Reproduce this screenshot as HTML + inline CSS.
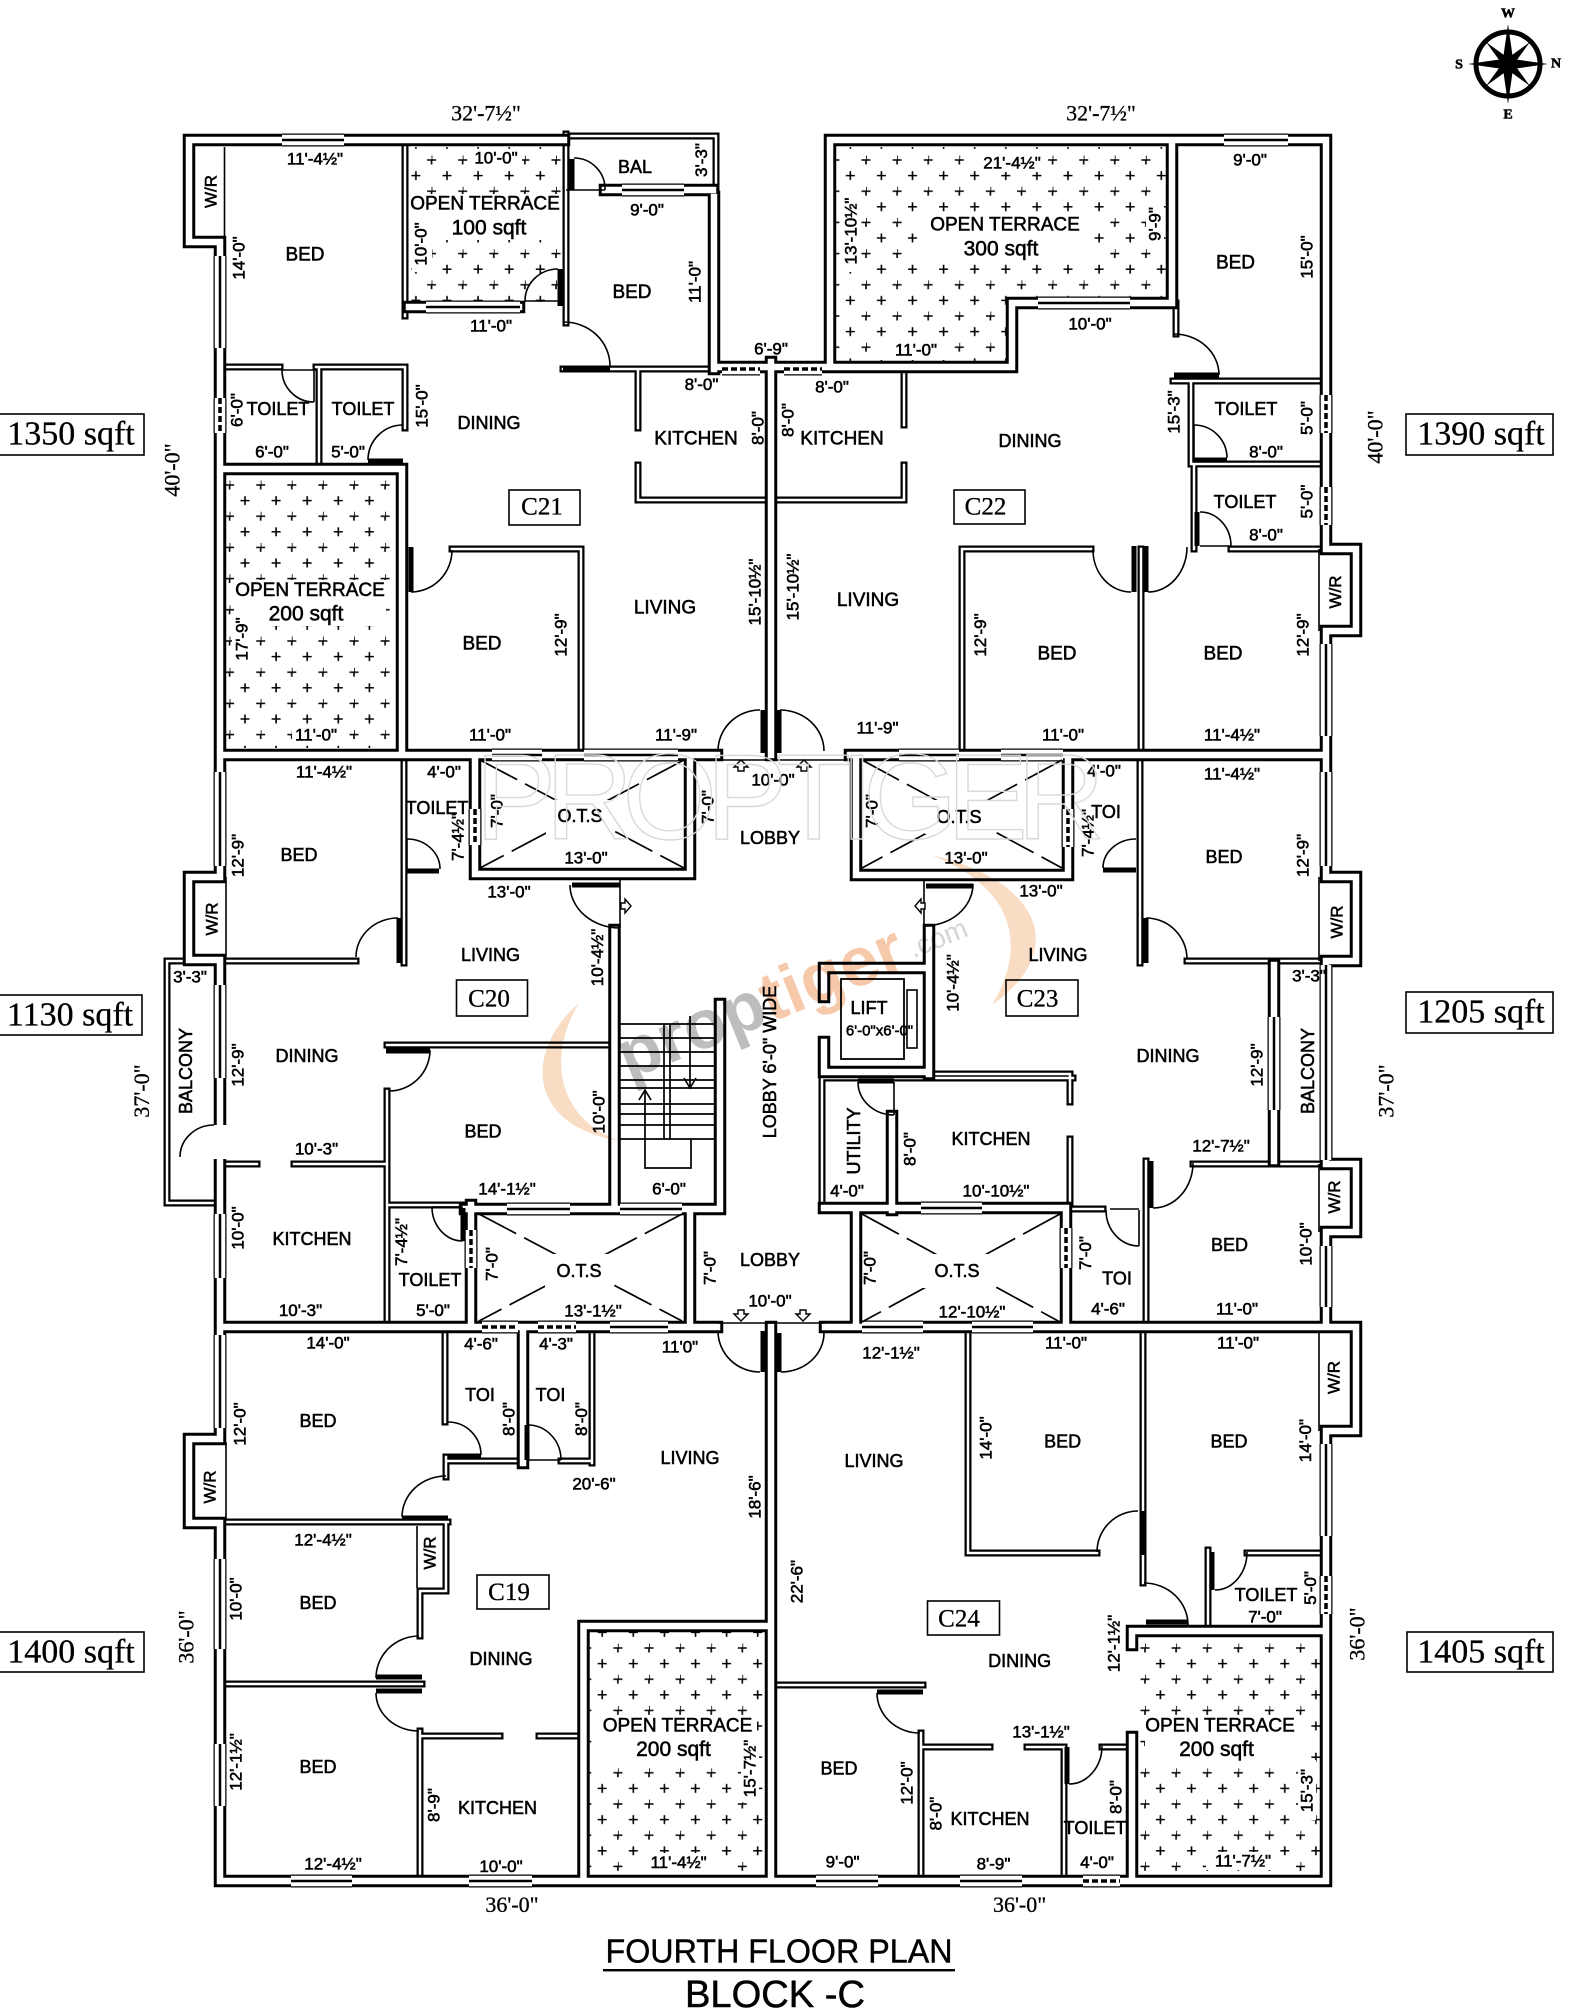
<!DOCTYPE html>
<html><head><meta charset="utf-8"><title>Fourth Floor Plan Block C</title>
<style>
html,body{margin:0;padding:0;background:#fff}
svg{display:block}
text{font-family:"Liberation Sans",sans-serif;font-size:17px;text-anchor:middle;dominant-baseline:central;fill:#000;stroke:#000;stroke-width:.55}
text.b{font-size:19px}
text.t{font-size:18px}
text.m{font-size:21px}
text.f{font-family:"Liberation Serif",serif;font-size:22px;stroke-width:.3}
text.c{font-family:"Liberation Serif",serif;font-size:25px;stroke-width:.3}
text.a{font-family:"Liberation Serif",serif;font-size:34px;stroke-width:.3}
text.n{font-family:"Liberation Serif",serif;font-size:14px;font-weight:bold}
</style></head><body>
<svg xmlns="http://www.w3.org/2000/svg" width="1572" height="2013" viewBox="0 0 1572 2013">
<defs>
<pattern id="p1" width="31.1" height="31.2" patternUnits="userSpaceOnUse" patternTransform="translate(229.6 485)"><path d="M-4.5 0H4.5M0-4.5V4.5M26.6 0H31.1M31.1-4.5V4.5M0 26.7V31.2M-4.5 31.2H4.5M26.6 31.2H31.1M10.9 15.6H19.9M15.4 11.1V20.1" stroke="#000" stroke-width="1.6" fill="none"/></pattern>
<pattern id="p2" href="#p1" patternTransform="translate(431.6 160)"/>
<pattern id="p3" href="#p1" patternTransform="translate(866 160)"/>
<pattern id="p4" href="#p1" patternTransform="translate(649 1648)"/>
<pattern id="p5" href="#p1" patternTransform="translate(1145 1648)"/>
<path id="TH" d="M408 140H189V242H220V469H402V755M220 469V877H189V960H220V1439H189V1523H220V1881H1326V1431H1356V1327H1326V1232H1356V1164H1326V961H1356V877H1326V631H1356V549H1326V140H830V367H1012V303H1172V140M408 140H564M714 197V369M605 190H713M714 367H830M409 307H519M220 755H717M850 755H1326M475 755V874H690V755M856 755V875H1068V755M614.5 930V1209M720 1004V1209M465 1209H720M690 1209V1327M471 1205V1327M824 1208H1066V1327M856 1208V1327M892 1116V1210M929 930V1074M824 968H929M824 1072H929M824 968V997M824 1042V1072M220 1327H717M825 1327H1326M771 362V755M771 1327V1881M523 1327V1463M583.5 1881V1626H771M1132 1631H1326M1132 1631V1645M1132 1737V1881M1274 965V1161"/>
<path id="TN" d="M405 140V316M563 369H714M1176 303V334M566 134V323M566 136H716V197M638 369V428M638 465V500H765M904 367V425M904 465V500H778M220 367H280M316 367H405V428M319 367V469M452 549H581V755M962 755V549H1091M1141 549V755M1173 381H1326M1191 381V464H1326M1194 464V549M1231 549H1326M404 755V963M220 961H356M387 1045H609M387 1091V1327M220 1164H257M294 1164H387M387 1205H470M220 1203H167V961H220M1140 755V963M1187 961H1326M929 1074H1070V1102M1070 1139V1208M1146 1161V1327M1193 1164H1326M1066 1209H1103M822 1079V1208M824 1078H1073M445 1327V1422M446 1457V1477M446 1461H523M561 1461H592M592 1327V1463M220 1522H448M446 1522V1591H420V1636M220 1684H422M420 1731V1881M420 1736H500M539 1736H583M968 1327V1553H1097M1143 1327V1583M1208 1550V1631M1247 1553H1326M778 1685H923M921 1733V1881M921 1747H990M1027 1747H1064V1881M1102 1747H1132"/>
<path id="WN" d="M282 140H344M426 307H520M622 190H684M1224 140H1288M1038 303H1130M492 755H542M584 755H678M899 755H959M1001 755H1063M507 1209H570M620 1209H682M921 1208H982M610 1327H668M862 1327H923M972 1327H1033M291 1881H352M469 1881H532M816 1881H878M960 1881H1022M220 256V348M220 772V866M220 985V1078M220 1214V1278M220 1335V1428M220 1559V1649M220 1744V1806M1326 644V736M1326 772V866M1326 965V1160M1326 1246V1307M1326 1444V1536M1274 1017V1110"/>
<path id="VT" d="M220 398V433M1326 395V433M1326 487V525M475 809V845M471 1230V1268M1068 809V847M1066 1228V1268M1326 1576V1614M722 369H760M784 369H822M482 1327H518M538 1327H576M1083 1881H1120"/>
</defs>
<rect width="1572" height="2013" fill="#fff"/>

<!-- terrace hatching -->
<rect x="408" y="147" width="153" height="155" fill="url(#p2)"/>
<path d="M835 147H1166V297H1006V362H835Z" fill="url(#p3)"/>
<rect x="226" y="475" width="169" height="273" fill="url(#p1)"/>
<rect x="589" y="1631" width="176" height="244" fill="url(#p4)"/>
<rect x="1138" y="1637" width="182" height="238" fill="url(#p5)"/>
<!-- white behind terrace labels -->
<g fill="#fff">
<rect x="408" y="194" width="154" height="46"/><rect x="470" y="150" width="52" height="18"/><rect x="412" y="222" width="20" height="50"/>
<rect x="236" y="580" width="150" height="46"/><rect x="232" y="615" width="20" height="52"/><rect x="292" y="726" width="50" height="18"/>
<rect x="920" y="215" width="172" height="46"/><rect x="980" y="152" width="64" height="20"/><rect x="842" y="190" width="18" height="82"/><rect x="1146" y="200" width="18" height="48"/><rect x="880" y="342" width="72" height="18"/>
<rect x="597" y="1716" width="160" height="46"/><rect x="741" y="1736" width="18" height="66"/><rect x="642" y="1853" width="74" height="18"/>
<rect x="1145" y="1716" width="160" height="46"/><rect x="1298" y="1760" width="18" height="60"/><rect x="1206" y="1852" width="74" height="18"/>
</g>

<!-- walls -->
<g fill="none" stroke-linecap="square" stroke-linejoin="miter">
<use href="#TN" stroke="#000" stroke-width="7"/>
<use href="#TN" stroke="#fff" stroke-width="2.5"/>
<use href="#TH" stroke="#000" stroke-width="12.5"/>
<use href="#TH" stroke="#fff" stroke-width="6.5"/>
</g>
<!-- windows and vents -->
<g fill="none">
<use href="#WN" stroke="#000" stroke-width="13"/>
<use href="#WN" stroke="#fff" stroke-width="10.5"/>
<use href="#WN" stroke="#000" stroke-width="2.5"/>
<use href="#VT" stroke="#000" stroke-width="13"/>
<use href="#VT" stroke="#fff" stroke-width="10.5"/>
<use href="#VT" stroke="#000" stroke-width="3.5" stroke-dasharray="6 3"/>
<path d="M220 1125V1159" stroke="#fff" stroke-width="14"/>
</g>

<!-- thin lines and door arcs -->
<path fill="none" stroke="#000" stroke-width="1.6" d="M224.5 147V242M1319 549V631M1319 877V961M1319 1164V1232M1319 1333V1431M226 877V957M226 1442V1520M566 190H605M282 370H316M314 370V402M1194 425V460M1200 546H1231M407 839V870M620 880V928M924 880V928M894 1082V1115M1139 1210V1246M525 301H558M528 1460H561M417 1526V1588M717 760H850M717 1323H825M1110 1209H1139M463 1207H432
M574 158A31 31 0 0 1 605 190M525 301A33 32 0 0 1 558 269M564 322A46 44 0 0 1 610 366M282 370A32 32 0 0 0 314 402M368 460A35 35 0 0 1 403 425M411 592A41 42 0 0 0 452 550M760 710A42 41 0 0 0 718 751M780 710A44 41 0 0 1 824 751
M1174 334A45 41 0 0 1 1219 375M1194 425A33 33 0 0 1 1227 458M1200 512A31 34 0 0 1 1231 546M1093 550A38 42 0 0 0 1131 592M1148 592A39 45 0 0 0 1187 547
M407 839A33 30 0 0 1 440 869M398 918A42 39 0 0 0 356 957M570 885A50 43 0 0 0 620 928M430 1050A41 41 0 0 1 389 1091M180 1157A34 32 0 0 1 214 1125M432 1207A31 34 0 0 0 463 1241
M1103 868A33 29 0 0 1 1136 839M1146 918A41 41 0 0 1 1187 959M924 926A49 42 0 0 0 973 884M858 1082A36 33 0 0 0 894 1115M1106 1210A33 36 0 0 0 1139 1246M1153 1208A40 45 0 0 0 1193 1163
M718 1331A42 41 0 0 0 760 1372M824 1333A43 39 0 0 1 781 1372
M448 1422A33 33 0 0 1 481 1455M528 1425A33 35 0 0 1 561 1460M446 1476A44 41 0 0 0 402 1517M419 1636A43 42 0 0 0 376 1678M376 1693A43 38 0 0 0 419 1731
M1097 1552A41 41 0 0 1 1138 1511M1144 1583A44 42 0 0 1 1188 1625M1215 1590A32 38 0 0 0 1247 1552M877 1693A43 40 0 0 0 920 1733M1069 1784A33 38 0 0 0 1102 1746"/>
<!-- door leaves -->
<path fill="none" stroke="#000" stroke-width="5" d="M572 159V190M560 269V306M563 368H610M368 461H403M411 547V592M763 710V753M779 710V753M1174 375H1219M1194 460H1227M1197 512V546M1134 546V592M1146 546V592M407 871H439M399 918V963M572 885H620M386 1051H430M463 1208V1241M1103 870H1136M1146 918V963M926 886H973M858 1081H894M1151 1161V1208M763 1331V1372M779 1333V1372M448 1456H481M527 1425V1460M402 1518H448M376 1677H422M376 1691H422M1144 1511V1555M1146 1622H1188M1212 1552V1590M877 1692H923M1067 1747V1784"/>

<!-- OTS -->
<g fill="none" stroke="#000" stroke-width="1.7" stroke-dasharray="42 9">
<path d="M480 760L684 868M684 760L480 868M862 760L1062 868M1062 760L862 868M479 1214L682 1321M682 1214L479 1321M862 1214L1060 1322M1060 1214L862 1322"/>
</g>
<g fill="#fff">
<rect x="546" y="800" width="68" height="34"/><rect x="925" y="800" width="68" height="34"/><rect x="545" y="1254" width="68" height="34"/><rect x="923" y="1254" width="68" height="34"/>
</g>

<!-- stairs -->
<path fill="none" stroke="#000" stroke-width="1.7" d="M620 1024H715M620 1038H715M620 1052H715M620 1066H715M620 1080H715M620 1088H715M620 1104H715M620 1114H715M620 1125H715M620 1139H715M664 1024V1139M670 1024V1139M645 1139V1168H691V1139M645 1139V1092M639 1100L645 1090L651 1100M690 1016V1086M684 1078L690 1088L696 1078"/>

<!-- lift -->
<rect x="841" y="979" width="63" height="80" fill="none" stroke="#000" stroke-width="1.8"/>
<rect x="907" y="990" width="10" height="58" fill="none" stroke="#000" stroke-width="1.6"/>

<!-- lobby markers -->
<path fill="#fff" stroke="#000" stroke-width="1.4" d="M741 760L734 767H738V771H744V767H748ZM804 760L797 767H801V771H807V767H811ZM631 906L625 899V903H621V909H625V913ZM915 906L921 899V903H925V909H921V913ZM741 1321L734 1314H738V1310H744V1314H748ZM803 1321L796 1314H800V1310H806V1314H810Z"/>

<!-- boxes -->
<g fill="#fff" stroke="#000" stroke-width="1.6">
<rect x="-2" y="414" width="146" height="41"/><rect x="1406" y="414" width="147" height="41"/>
<rect x="-2" y="995" width="144" height="40"/><rect x="1406" y="992" width="147" height="41"/>
<rect x="-2" y="1632" width="146" height="40"/><rect x="1407" y="1632" width="146" height="40"/>
<rect x="509" y="490" width="71" height="35"/><rect x="954" y="490" width="71" height="34"/>
<rect x="456.5" y="980" width="71" height="36"/><rect x="1006" y="980" width="72" height="36"/>
<rect x="477" y="1575" width="72" height="34"/><rect x="927.5" y="1601" width="72" height="34"/>
</g>
<text class="a" x="71" y="434">1350 sqft</text><text class="a" x="1481" y="434">1390 sqft</text>
<text class="a" x="70" y="1015">1130 sqft</text><text class="a" x="1481" y="1012">1205 sqft</text>
<text class="a" x="71" y="1652">1400 sqft</text><text class="a" x="1481" y="1652">1405 sqft</text>
<text class="c" x="542" y="507">C21</text><text class="c" x="985.5" y="507">C22</text><text class="c" x="489" y="999">C20</text><text class="c" x="1037.6" y="999">C23</text><text class="c" x="509" y="1592.6">C19</text><text class="c" x="959" y="1619">C24</text>

<!-- serif dims -->
<text class="f" x="486" y="113">32'-7½"</text><text class="f" x="1101" y="113">32'-7½"</text>
<text class="f" x="172" y="470" transform="rotate(-90 172 470)">40'-0"</text><text class="f" x="1375" y="437" transform="rotate(-90 1375 437)">40'-0"</text>
<text class="f" x="141.6" y="1091" transform="rotate(-90 141.6 1091)">37'-0"</text><text class="f" x="1386" y="1091" transform="rotate(-90 1386 1091)">37'-0"</text>
<text class="f" x="186" y="1637" transform="rotate(-90 186 1637)">36'-0"</text><text class="f" x="1357" y="1634" transform="rotate(-90 1357 1634)">36'-0"</text>
<text class="f" x="512" y="1904.6">36'-0"</text><text class="f" x="1019.6" y="1904.6">36'-0"</text>

<!-- C21 -->
<text x="315" y="159">11'-4½"</text><text x="496" y="158">10'-0"</text><text class="t" x="635" y="167">BAL</text>
<text x="701.5" y="160" transform="rotate(-90 701.5 160)">3'-3"</text><text x="211" y="191.5" transform="rotate(-90 211 191.5)">W/R</text>
<text class="b" x="305" y="255">BED</text><text x="239" y="258" transform="rotate(-90 239 258)">14'-0"</text>
<text class="b" x="485" y="204">OPEN TERRACE</text><text class="m" x="489" y="228">100 sqft</text>
<text x="421" y="244" transform="rotate(-90 421 244)">10'-0"</text><text x="647" y="210">9'-0"</text>
<text class="b" x="632" y="292.5">BED</text><text x="695" y="282" transform="rotate(-90 695 282)">11'-0"</text>
<text x="491" y="326">11'-0"</text><text x="771" y="349">6'-9"</text><text x="701.5" y="384.6">8'-0"</text>
<text class="t" x="278" y="409">TOILET</text><text x="237" y="410" transform="rotate(-90 237 410)">6'-0"</text><text class="t" x="363" y="409">TOILET</text>
<text x="422" y="406" transform="rotate(-90 422 406)">15'-0"</text><text class="t" x="489" y="423">DINING</text><text class="b" x="696" y="439">KITCHEN</text>
<text x="758" y="428" transform="rotate(-90 758 428)">8'-0"</text><text x="788" y="420" transform="rotate(-90 788 420)">8'-0"</text>
<text x="272" y="452">6'-0"</text><text x="348" y="452">5'-0"</text>
<text class="b" x="310" y="590.5">OPEN TERRACE</text><text class="m" x="306" y="614">200 sqft</text>
<text x="242" y="639" transform="rotate(-90 242 639)">17'-9"</text><text class="b" x="482" y="644">BED</text>
<text x="561" y="635" transform="rotate(-90 561 635)">12'-9"</text><text class="b" x="665" y="608">LIVING</text>
<text x="755" y="592" transform="rotate(-90 755 592)">15'-10½"</text><text x="793" y="587" transform="rotate(-90 793 587)">15'-10½"</text>
<text x="316" y="735">11'-0"</text><text x="490" y="735">11'-0"</text><text x="676" y="735">11'-9"</text>

<!-- C22 -->
<text x="1012" y="163">21'-4½"</text><text x="851" y="231" transform="rotate(-90 851 231)">13'-10½"</text>
<text class="b" x="1005" y="225">OPEN TERRACE</text><text class="m" x="1001" y="249">300 sqft</text>
<text x="1155" y="224" transform="rotate(-90 1155 224)">9'-9"</text><text x="1250" y="160">9'-0"</text>
<text class="b" x="1235.5" y="263">BED</text><text x="1307" y="257" transform="rotate(-90 1307 257)">15'-0"</text>
<text x="916" y="350">11'-0"</text><text x="1090" y="324">10'-0"</text><text x="832" y="387">8'-0"</text>
<text class="b" x="842" y="439">KITCHEN</text><text class="t" x="1030" y="441">DINING</text>
<text x="1174" y="412" transform="rotate(-90 1174 412)">15'-3"</text><text class="t" x="1246" y="409">TOILET</text>
<text x="1307" y="418" transform="rotate(-90 1307 418)">5'-0"</text><text x="1266" y="452">8'-0"</text>
<text class="t" x="1245" y="502">TOILET</text><text x="1307" y="501.5" transform="rotate(-90 1307 501.5)">5'-0"</text><text x="1266" y="535">8'-0"</text>
<text class="b" x="868" y="600.5">LIVING</text><text class="b" x="1057" y="654">BED</text>
<text x="980.5" y="635" transform="rotate(-90 980.5 635)">12'-9"</text><text class="b" x="1223" y="654">BED</text>
<text x="1303" y="635" transform="rotate(-90 1303 635)">12'-9"</text><text x="1335.5" y="592" transform="rotate(-90 1335.5 592)">W/R</text>
<text x="877.5" y="728">11'-9"</text><text x="1063" y="735">11'-0"</text><text x="1232" y="735">11'-4½"</text>

<!-- C20 -->
<text x="324" y="772">11'-4½"</text><text x="444" y="772">4'-0"</text><text class="t" x="437" y="808">TOILET</text>
<text x="458" y="837" transform="rotate(-90 458 837)">7'-4½"</text><text class="t" x="299" y="855">BED</text>
<text x="238" y="855.5" transform="rotate(-90 238 855.5)">12'-9"</text><text x="212" y="919" transform="rotate(-90 212 919)">W/R</text>
<text x="497" y="811" transform="rotate(-90 497 811)">7'-0"</text><text class="t" x="580" y="816">O.T.S</text><text x="586" y="858">13'-0"</text>
<text x="708" y="807" transform="rotate(-90 708 807)">7'-0"</text><text x="773" y="780">10'-0"</text><text class="t" x="770" y="838">LOBBY</text>
<text x="509" y="892">13'-0"</text><text class="t" x="490.5" y="955">LIVING</text>
<text x="597.5" y="957.5" transform="rotate(-90 597.5 957.5)">10'-4½"</text><text x="190" y="977">3'-3"</text>
<text class="t" x="307" y="1056">DINING</text><text x="238" y="1065" transform="rotate(-90 238 1065)">12'-9"</text>
<text class="t" x="186" y="1071" transform="rotate(-90 186 1071)">BALCONY</text><text class="t" x="483" y="1131.5">BED</text>
<text x="599" y="1112" transform="rotate(-90 599 1112)">10'-0"</text><text x="316.5" y="1149">10'-3"</text><text x="507" y="1189">14'-1½"</text><text x="669" y="1189">6'-0"</text>
<text class="t" x="770" y="1062" transform="rotate(-90 770 1062)">LOBBY 6'-0" WIDE</text>
<text x="238" y="1228" transform="rotate(-90 238 1228)">10'-0"</text><text class="t" x="312" y="1239">KITCHEN</text>
<text x="401.5" y="1242" transform="rotate(-90 401.5 1242)">7'-4½"</text><text class="t" x="430" y="1280">TOILET</text>
<text x="492" y="1264" transform="rotate(-90 492 1264)">7'-0"</text><text class="t" x="579" y="1271">O.T.S</text><text x="593" y="1311">13'-1½"</text>
<text x="710" y="1268" transform="rotate(-90 710 1268)">7'-0"</text><text class="t" x="770" y="1260">LOBBY</text><text x="770" y="1301">10'-0"</text>
<text x="300.5" y="1310.6">10'-3"</text><text x="433" y="1310.6">5'-0"</text>

<!-- C23 -->
<text x="1104" y="771">4'-0"</text><text x="1232" y="774">11'-4½"</text><text class="t" x="1106" y="812">TOI</text>
<text x="1088" y="833" transform="rotate(-90 1088 833)">7'-4½"</text><text x="872" y="811" transform="rotate(-90 872 811)">7'-0"</text>
<text class="t" x="959" y="817">O.T.S</text><text x="966" y="858">13'-0"</text><text class="t" x="1224" y="857">BED</text>
<text x="1303" y="855.5" transform="rotate(-90 1303 855.5)">12'-9"</text><text x="1041" y="891">13'-0"</text>
<text x="1337" y="922" transform="rotate(-90 1337 922)">W/R</text><text class="t" x="1058" y="955">LIVING</text>
<text x="953" y="983" transform="rotate(-90 953 983)">10'-4½"</text><text class="t" x="869" y="1008">LIFT</text>
<text x="879.5" y="1031" style="font-size:15px">6'-0"x6'-0"</text><text x="1309" y="976">3'-3"</text>
<text class="t" x="1168" y="1056">DINING</text><text x="1257" y="1065" transform="rotate(-90 1257 1065)">12'-9"</text>
<text class="t" x="1308" y="1071" transform="rotate(-90 1308 1071)">BALCONY</text>
<text class="t" x="854" y="1141" transform="rotate(-90 854 1141)">UTILITY</text><text x="910" y="1149" transform="rotate(-90 910 1149)">8'-0"</text>
<text class="t" x="991" y="1139">KITCHEN</text><text x="1221" y="1146">12'-7½"</text><text x="847" y="1191">4'-0"</text><text x="996" y="1191">10'-10½"</text>
<text x="1334.5" y="1197" transform="rotate(-90 1334.5 1197)">W/R</text><text x="1306" y="1244" transform="rotate(-90 1306 1244)">10'-0"</text>
<text class="t" x="1229.5" y="1245">BED</text><text x="1085.6" y="1253" transform="rotate(-90 1085.6 1253)">7'-0"</text><text class="t" x="1117" y="1278.6">TOI</text>
<text class="t" x="957" y="1271">O.T.S</text><text x="870" y="1268" transform="rotate(-90 870 1268)">7'-0"</text>
<text x="972" y="1312">12'-10½"</text><text x="1108" y="1309">4'-6"</text><text x="1237" y="1309">11'-0"</text>

<!-- C19 -->
<text x="328" y="1343">14'-0"</text><text x="481" y="1344">4'-6"</text><text x="556" y="1344">4'-3"</text><text x="680" y="1347">11'0"</text>
<text class="t" x="480" y="1395">TOI</text><text class="t" x="550.5" y="1395">TOI</text>
<text x="509" y="1419" transform="rotate(-90 509 1419)">8'-0"</text><text x="581.6" y="1419" transform="rotate(-90 581.6 1419)">8'-0"</text>
<text class="t" x="318" y="1421">BED</text><text x="240" y="1424" transform="rotate(-90 240 1424)">12'-0"</text>
<text class="t" x="690" y="1458">LIVING</text><text x="594" y="1484">20'-6"</text><text x="755" y="1497" transform="rotate(-90 755 1497)">18'-6"</text>
<text x="210" y="1487" transform="rotate(-90 210 1487)">W/R</text><text x="323" y="1540">12'-4½"</text><text x="430" y="1553" transform="rotate(-90 430 1553)">W/R</text>
<text class="t" x="318" y="1603">BED</text><text x="236" y="1599" transform="rotate(-90 236 1599)">10'-0"</text><text class="t" x="501" y="1659">DINING</text>
<text class="b" x="677.5" y="1726">OPEN TERRACE</text><text class="m" x="673.5" y="1749.5">200 sqft</text>
<text x="750" y="1768.5" transform="rotate(-90 750 1768.5)">15'-7½"</text><text x="236" y="1762" transform="rotate(-90 236 1762)">12'-1½"</text>
<text class="t" x="318" y="1767">BED</text><text class="t" x="497.5" y="1808">KITCHEN</text><text x="434" y="1805" transform="rotate(-90 434 1805)">8'-9"</text>
<text x="333" y="1864">12'-4½"</text><text x="501" y="1866.6">10'-0"</text><text x="678.6" y="1862.6">11'-4½"</text>

<!-- C24 -->
<text x="891" y="1353">12'-1½"</text><text x="1066" y="1343">11'-0"</text><text x="1238" y="1343">11'-0"</text>
<text x="1334" y="1377.5" transform="rotate(-90 1334 1377.5)">W/R</text><text x="986" y="1438" transform="rotate(-90 986 1438)">14'-0"</text>
<text class="t" x="1062.6" y="1441.5">BED</text><text class="t" x="1229" y="1441.5">BED</text><text x="1305.6" y="1440.6" transform="rotate(-90 1305.6 1440.6)">14'-0"</text>
<text class="t" x="874" y="1461">LIVING</text><text x="797" y="1581.6" transform="rotate(-90 797 1581.6)">22'-6"</text>
<text class="t" x="1266" y="1595">TOILET</text><text x="1310.7" y="1588" transform="rotate(-90 1310.7 1588)">5'-0"</text><text x="1265" y="1617">7'-0"</text>
<text x="1114" y="1643.5" transform="rotate(-90 1114 1643.5)">12'-1½"</text><text class="t" x="1019.6" y="1661">DINING</text>
<text class="b" x="1220" y="1726">OPEN TERRACE</text><text class="m" x="1216.5" y="1749.5">200 sqft</text><text x="1041" y="1732">13'-1½"</text>
<text class="t" x="839" y="1768.5">BED</text><text x="907" y="1783" transform="rotate(-90 907 1783)">12'-0"</text><text x="936" y="1813.6" transform="rotate(-90 936 1813.6)">8'-0"</text>
<text class="t" x="990" y="1819">KITCHEN</text><text x="1116" y="1797" transform="rotate(-90 1116 1797)">8'-0"</text><text class="t" x="1095" y="1828">TOILET</text>
<text x="1307" y="1790.6" transform="rotate(-90 1307 1790.6)">15'-3"</text><text x="842.6" y="1862">9'-0"</text><text x="993.5" y="1864">8'-9"</text><text x="1097" y="1862.6">4'-0"</text><text x="1243" y="1861">11'-7½"</text>

<!-- title -->
<text x="779" y="1951" style="font-size:33px;stroke-width:.4" textLength="347" lengthAdjust="spacingAndGlyphs">FOURTH FLOOR PLAN</text>
<rect x="603" y="1969" width="352" height="2.4" fill="#000"/>
<text x="775" y="1995" style="font-size:38px;stroke-width:.5" textLength="180" lengthAdjust="spacingAndGlyphs">BLOCK -C</text>

<!-- compass -->
<circle cx="1508" cy="64" r="32" fill="#fff" stroke="#000" stroke-width="5"/>
<path fill="#000" d="M1508 24L1513 59L1548 64L1513 69L1508 104L1503 69L1468 64L1503 59Z"/>
<path fill="#000" d="M1486 42L1508 58L1530 42L1514 64L1530 86L1508 70L1486 86L1502 64Z"/>
<text class="n" x="1508" y="14">W</text><text class="n" x="1508" y="115">E</text><text class="n" x="1459" y="65">S</text><text class="n" x="1556" y="64">N</text>

<!-- watermarks -->
<text x="790" y="797" textLength="630" lengthAdjust="spacing" style="font-size:122px;fill:none;stroke:#d9d9d9;stroke-width:1.4">PROPTIGER</text>
<g style="mix-blend-mode:multiply">
<path fill="#f9dcc4" d="M579 1003C525 1050 525 1125 620 1141C560 1120 545 1060 579 1003Z"/>
<path fill="#f9dcc4" d="M931 855C1040 880 1070 950 992 1005C1025 950 1020 890 931 855Z"/>
<text transform="translate(760 1001) rotate(-22)" style="font-size:69px;font-weight:bold;stroke:none"><tspan style="fill:#bdbdbd">prop</tspan><tspan style="fill:#f7c9ab">tiger</tspan></text>
<text transform="translate(938 938) rotate(-22)" style="font-size:28px;stroke:none;fill:#d5d5d5">.com</text>
</g>
</svg>
</body></html>
